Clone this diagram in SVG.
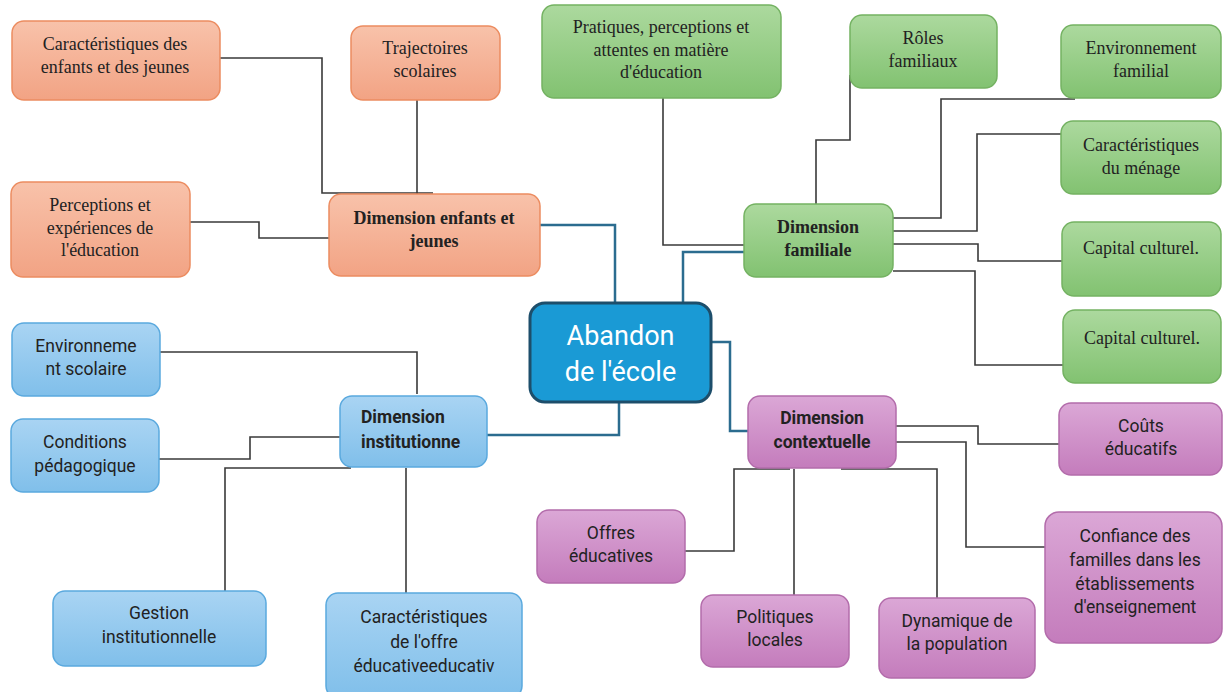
<svg xmlns="http://www.w3.org/2000/svg" width="1223" height="692" viewBox="0 0 1223 692">
<defs>
<linearGradient id="gO" x1="0" y1="0" x2="0" y2="1"><stop offset="0" stop-color="#f8c2aa"/><stop offset="1" stop-color="#f2a384"/></linearGradient>
<linearGradient id="gG" x1="0" y1="0" x2="0" y2="1"><stop offset="0" stop-color="#acd99e"/><stop offset="1" stop-color="#82c271"/></linearGradient>
<linearGradient id="gB" x1="0" y1="0" x2="0" y2="1"><stop offset="0" stop-color="#a9d4f3"/><stop offset="1" stop-color="#80bfea"/></linearGradient>
<linearGradient id="gP" x1="0" y1="0" x2="0" y2="1"><stop offset="0" stop-color="#dba7d6"/><stop offset="1" stop-color="#c47cbc"/></linearGradient>
<style>
.o{fill:url(#gO);stroke:#ec8c60;stroke-width:1.5}
.g{fill:url(#gG);stroke:#74b262;stroke-width:1.5}
.b{fill:url(#gB);stroke:#5aa9de;stroke-width:1.5}
.p{fill:url(#gP);stroke:#b36cab;stroke-width:1.5}
.ser{font-family:"Liberation Serif","Times New Roman",serif;font-size:18px;fill:#222;text-anchor:middle}
.san{font-family:Roboto,"Liberation Sans",sans-serif;font-size:17.5px;fill:#222;text-anchor:middle}
.bold{font-weight:bold}
.lft{text-anchor:start}
.ln{fill:none;stroke:#3a3a3a;stroke-width:1.6}
.mn{fill:none;stroke:#2b6c8f;stroke-width:2.5}
</style>
</defs>
<rect width="1223" height="692" fill="#ffffff"/>
<g id="connectors">
<path class="mn" d="M540,225 H615 V303"/>
<path class="mn" d="M683,303 V252 H744"/>
<path class="mn" d="M711,342 H730 V431 H748"/>
<path class="mn" d="M619,402 V435 H487"/>
<path class="ln" d="M220,58 H322 V193 H433"/>
<path class="ln" d="M417,100 V194"/>
<path class="ln" d="M190,222 H259 V238 H329"/>
<path class="ln" d="M663,98 V245 H744"/>
<path class="ln" d="M816,204 V140 H850 V75"/>
<path class="ln" d="M893,218 H941 V99 H1075"/>
<path class="ln" d="M893,231 H977 V134 H1061"/>
<path class="ln" d="M893,244 H978 V261 H1062"/>
<path class="ln" d="M893,271 H975 V365 H1063"/>
<path class="ln" d="M160,352 H417 V394"/>
<path class="ln" d="M159,459 H250 V437 H340"/>
<path class="ln" d="M225,591 V468 H351"/>
<path class="ln" d="M406,468 V593"/>
<path class="ln" d="M896,426 H978 V444 H1059"/>
<path class="ln" d="M896,442 H966 V547 H1045"/>
<path class="ln" d="M685,551 H734 V469 H790"/>
<path class="ln" d="M794,469 V595"/>
<path class="ln" d="M841,469 H937 V598"/>
</g>
<g id="n-center">
<rect x="530" y="303" width="181" height="99" rx="15" fill="#1a9ad5" stroke="#1d4e6b" stroke-width="3"/>
<text x="620.5" y="345" font-family="Roboto,'Open Sans',sans-serif" font-size="27" fill="#ffffff" text-anchor="middle">Abandon</text>
<text x="620.5" y="381" font-family="Roboto,'Open Sans',sans-serif" font-size="27" fill="#ffffff" text-anchor="middle">de l'école</text>
</g>
<g id="n-enfants">
<rect class="o" x="329" y="194" width="211" height="82" rx="12"/>
<text class="ser bold" x="434" y="224">Dimension enfants et</text>
<text class="ser bold" x="434" y="247">jeunes</text>
</g>
<g id="n-caract-enfants">
<rect class="o" x="12" y="21" width="208" height="79" rx="12"/>
<text class="ser" x="115" y="50">Caractéristiques des</text>
<text class="ser" x="115" y="73">enfants et des jeunes</text>
</g>
<g id="n-trajectoires">
<rect class="o" x="351" y="26" width="149" height="74" rx="12"/>
<text class="ser" x="425" y="54">Trajectoires</text>
<text class="ser" x="425" y="77">scolaires</text>
</g>
<g id="n-perceptions">
<rect class="o" x="11" y="182" width="179" height="95" rx="12"/>
<text class="ser" x="100" y="211">Perceptions et</text>
<text class="ser" x="100" y="234">expériences de</text>
<text class="ser" x="100" y="256">l'éducation</text>
</g>
<g id="n-familiale">
<rect class="g" x="744" y="204" width="149" height="73" rx="12"/>
<text class="ser bold" x="818" y="233">Dimension</text>
<text class="ser bold" x="818" y="256">familiale</text>
</g>
<g id="n-pratiques">
<rect class="g" x="542" y="5" width="239" height="93" rx="12"/>
<text class="ser" x="661" y="33">Pratiques, perceptions et</text>
<text class="ser" x="661" y="56">attentes en matière</text>
<text class="ser" x="661" y="78">d'éducation</text>
</g>
<g id="n-roles">
<rect class="g" x="850" y="15" width="147" height="73" rx="12"/>
<text class="ser" x="923" y="44">Rôles</text>
<text class="ser" x="923" y="67">familiaux</text>
</g>
<g id="n-env-familial">
<rect class="g" x="1061" y="25" width="160" height="73" rx="12"/>
<text class="ser" x="1141" y="54">Environnement</text>
<text class="ser" x="1141" y="77">familial</text>
</g>
<g id="n-menage">
<rect class="g" x="1061" y="121" width="160" height="73" rx="12"/>
<text class="ser" x="1141" y="151">Caractéristiques</text>
<text class="ser" x="1141" y="174">du ménage</text>
</g>
<g id="n-capital1">
<rect class="g" x="1062" y="222" width="159" height="74" rx="12"/>
<text class="ser" x="1141" y="254">Capital culturel.</text>
</g>
<g id="n-capital2">
<rect class="g" x="1063" y="310" width="158" height="73" rx="12"/>
<text class="ser" x="1142" y="344">Capital culturel.</text>
</g>
<g id="n-institution">
<rect class="b" x="340" y="396" width="147" height="71" rx="12"/>
<text class="san bold lft" x="361" y="423">Dimension</text>
<text class="san bold lft" x="361" y="448">institutionne</text>
</g>
<g id="n-env-scolaire">
<rect class="b" x="12" y="323" width="148" height="73" rx="12"/>
<text class="san" x="86" y="352">Environneme</text>
<text class="san" x="86" y="375">nt scolaire</text>
</g>
<g id="n-conditions">
<rect class="b" x="11" y="419" width="148" height="73" rx="12"/>
<text class="san" x="85" y="448">Conditions</text>
<text class="san" x="85" y="472">pédagogique</text>
</g>
<g id="n-gestion">
<rect class="b" x="53" y="591" width="213" height="75" rx="12"/>
<text class="san" x="159" y="619">Gestion</text>
<text class="san" x="159" y="643">institutionnelle</text>
</g>
<g id="n-offre">
<rect class="b" x="326" y="593" width="196" height="105" rx="12"/>
<text class="san" x="424" y="623">Caractéristiques</text>
<text class="san" x="424" y="648">de l'offre</text>
<text class="san" x="424" y="672">éducativeeducativ</text>
</g>
<g id="n-contextuelle">
<rect class="p" x="748" y="396" width="148" height="72" rx="12"/>
<text class="san bold" x="822" y="424">Dimension</text>
<text class="san bold" x="822" y="448">contextuelle</text>
</g>
<g id="n-couts">
<rect class="p" x="1059" y="403" width="163" height="72" rx="12"/>
<text class="san" x="1141" y="432">Coûts</text>
<text class="san" x="1141" y="455">éducatifs</text>
</g>
<g id="n-offres">
<rect class="p" x="537" y="510" width="148" height="73" rx="12"/>
<text class="san" x="611" y="539">Offres</text>
<text class="san" x="611" y="562">éducatives</text>
</g>
<g id="n-confiance">
<rect class="p" x="1045" y="512" width="177" height="131" rx="14"/>
<text class="san" x="1135" y="542">Confiance des</text>
<text class="san" x="1135" y="566">familles dans les</text>
<text class="san" x="1135" y="590">établissements</text>
<text class="san" x="1135" y="613">d'enseignement</text>
</g>
<g id="n-politiques">
<rect class="p" x="701" y="595" width="148" height="72" rx="12"/>
<text class="san" x="775" y="623">Politiques</text>
<text class="san" x="775" y="646">locales</text>
</g>
<g id="n-dynamique">
<rect class="p" x="879" y="598" width="156" height="80" rx="12"/>
<text class="san" x="957" y="627">Dynamique de</text>
<text class="san" x="957" y="650">la population</text>
</g>
</svg>
